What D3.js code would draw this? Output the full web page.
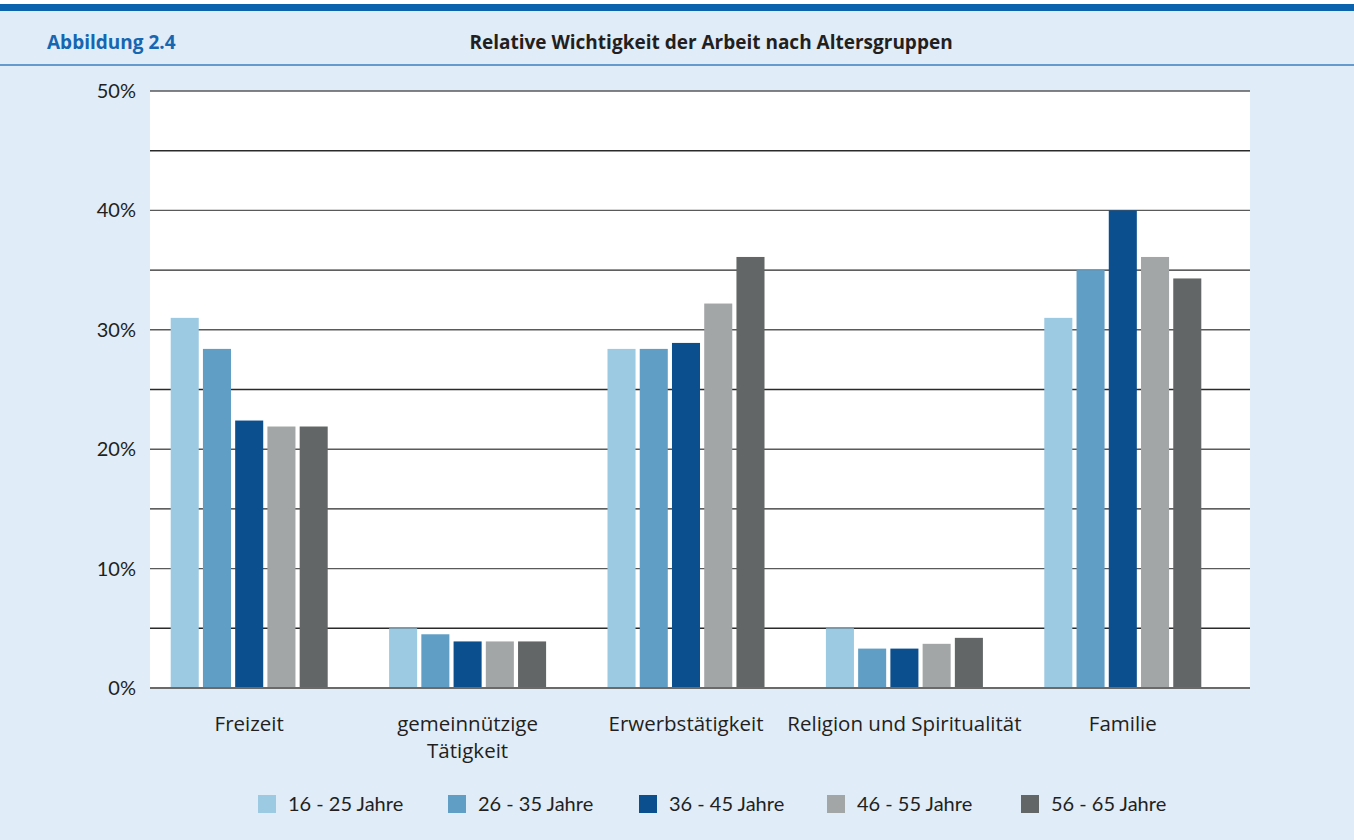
<!DOCTYPE html>
<html>
<head>
<meta charset="utf-8">
<script src="https://cdn.jsdelivr.net/npm/d3@7"></script>
<style>
  html, body { margin: 0; padding: 0; background: #fff; }
  svg { display: block; font-family: Lato, "Open Sans", sans-serif; }
</style>
</head>
<body>
<svg id="chart" width="1354" height="840"></svg>
<script>
// ── data ──
const categories = ["Freizeit", "gemeinnützige\nTätigkeit", "Erwerbstätigkeit", "Religion und Spiritualität", "Familie"];
const series = ["16 - 25 Jahre", "26 - 35 Jahre", "36 - 45 Jahre", "46 - 55 Jahre", "56 - 65 Jahre"];
const values = [
  [31.0, 28.4, 22.4, 21.9, 21.9],   // Freizeit
  [5.0, 4.5, 3.9, 3.9, 3.9],        // gemeinnützige Tätigkeit
  [28.4, 28.4, 28.9, 32.2, 36.1],   // Erwerbstätigkeit
  [5.0, 3.3, 3.3, 3.7, 4.2],        // Religion und Spiritualität
  [31.0, 35.0, 40.0, 36.1, 34.3]    // Familie
];
const yTicks = [0, 10, 20, 30, 40, 50];
const gridTicks = [0, 5, 10, 15, 20, 25, 30, 35, 40, 45, 50];
const colors = ["#9ccae2", "#619ec5", "#0c4f8f", "#a3a6a7", "#626666"];

const svg = d3.select("#chart");
const W = 1354, H = 840;
const WIDE = "'Open Sans', Lato, sans-serif";

// background + header
svg.append("rect").attr("x", 0).attr("y", 0).attr("width", W).attr("height", H).attr("fill", "#e0ecf8");
svg.append("rect").attr("x", 0).attr("y", 0).attr("width", W).attr("height", 4).attr("fill", "#fff");
svg.append("rect").attr("x", 0).attr("y", 4).attr("width", W).attr("height", 7).attr("fill", "#0a63ac");
svg.append("line").attr("x1", 0).attr("x2", W).attr("y1", 65).attr("y2", 65)
  .attr("stroke", "#3d7fc1").attr("stroke-width", 1.5);

svg.append("text").attr("x", 47).attr("y", 49)
  .attr("fill", "#1666b1").attr("font-size", "19px").attr("font-weight", 700)
  .attr("font-family", WIDE)
  .text("Abbildung 2.4");
svg.append("text").attr("x", 711).attr("y", 49).attr("text-anchor", "middle")
  .attr("fill", "#231f20").attr("font-size", "19px").attr("font-weight", 700)
  .attr("font-family", WIDE)
  .text("Relative Wichtigkeit der Arbeit nach Altersgruppen");

// plot area
const plot = { left: 150, right: 1250, top: 91, bottom: 688 };
svg.append("rect").attr("x", plot.left).attr("y", plot.top)
  .attr("width", plot.right - plot.left).attr("height", plot.bottom - plot.top)
  .attr("fill", "#fff");

const y = d3.scaleLinear().domain([0, 50]).range([plot.bottom, plot.top]);
const x0 = d3.scaleBand().domain(categories).range([140, 1232]).padding(0);
const x1 = d3.scaleBand().domain(series).range([-80.6, 80.6]).paddingInner(0.13).paddingOuter(0.065);

// grid
svg.append("g").selectAll("line").data(gridTicks).join("line")
  .attr("x1", plot.left).attr("x2", plot.right)
  .attr("y1", d => y(d)).attr("y2", d => y(d))
  .attr("stroke", d => d % 10 === 0 ? "#5a5a5a" : "#2a2a2a")
  .attr("stroke-width", d => d === 0 ? 2 : 1.4);

// y axis labels
const yAx = svg.append("g").attr("transform", `translate(${plot.left},0)`)
  .call(d3.axisLeft(y).tickValues(yTicks).tickSize(0).tickPadding(14).tickFormat(d => d + "%"));
yAx.select(".domain").remove();
yAx.selectAll("text").attr("fill", "#231f20").attr("font-size", "20px")
  .attr("font-family", "Lato, 'Open Sans', sans-serif");

// bars
const groups = svg.append("g").selectAll("g").data(categories).join("g")
  .attr("transform", d => `translate(${x0(d) + x0.bandwidth() / 2},0)`);
groups.selectAll("rect").data((d, i) => values[i].map((v, j) => ({ s: series[j], v, j })))
  .join("rect")
  .attr("x", d => x1(d.s)).attr("width", x1.bandwidth())
  .attr("y", d => y(d.v)).attr("height", d => y(0) - y(d.v))
  .attr("fill", d => colors[d.j]);

// baseline on top
svg.append("line").attr("x1", plot.left).attr("x2", plot.right)
  .attr("y1", y(0)).attr("y2", y(0)).attr("stroke", "#6a6a6a").attr("stroke-width", 2);

// category labels
categories.forEach(c => {
  const t = svg.append("text").attr("x", x0(c) + x0.bandwidth() / 2).attr("y", 731)
    .attr("text-anchor", "middle").attr("fill", "#231f20").attr("font-size", "20.5px")
    .attr("font-family", WIDE);
  c.split("\n").forEach((line, i) => {
    t.append("tspan").attr("x", x0(c) + x0.bandwidth() / 2).attr("dy", i ? 27 : 0).text(line);
  });
});

// legend
const legX = [258, 448, 639, 827, 1021];
const leg = svg.append("g").selectAll("g").data(series).join("g")
  .attr("transform", (d, i) => `translate(${legX[i]},795)`);
leg.append("rect").attr("width", 18).attr("height", 18).attr("fill", (d, i) => colors[i]);
leg.append("text").attr("x", 30).attr("y", 16).attr("fill", "#231f20")
  .attr("font-size", "20px").text(d => d);
</script>
</body>
</html>
